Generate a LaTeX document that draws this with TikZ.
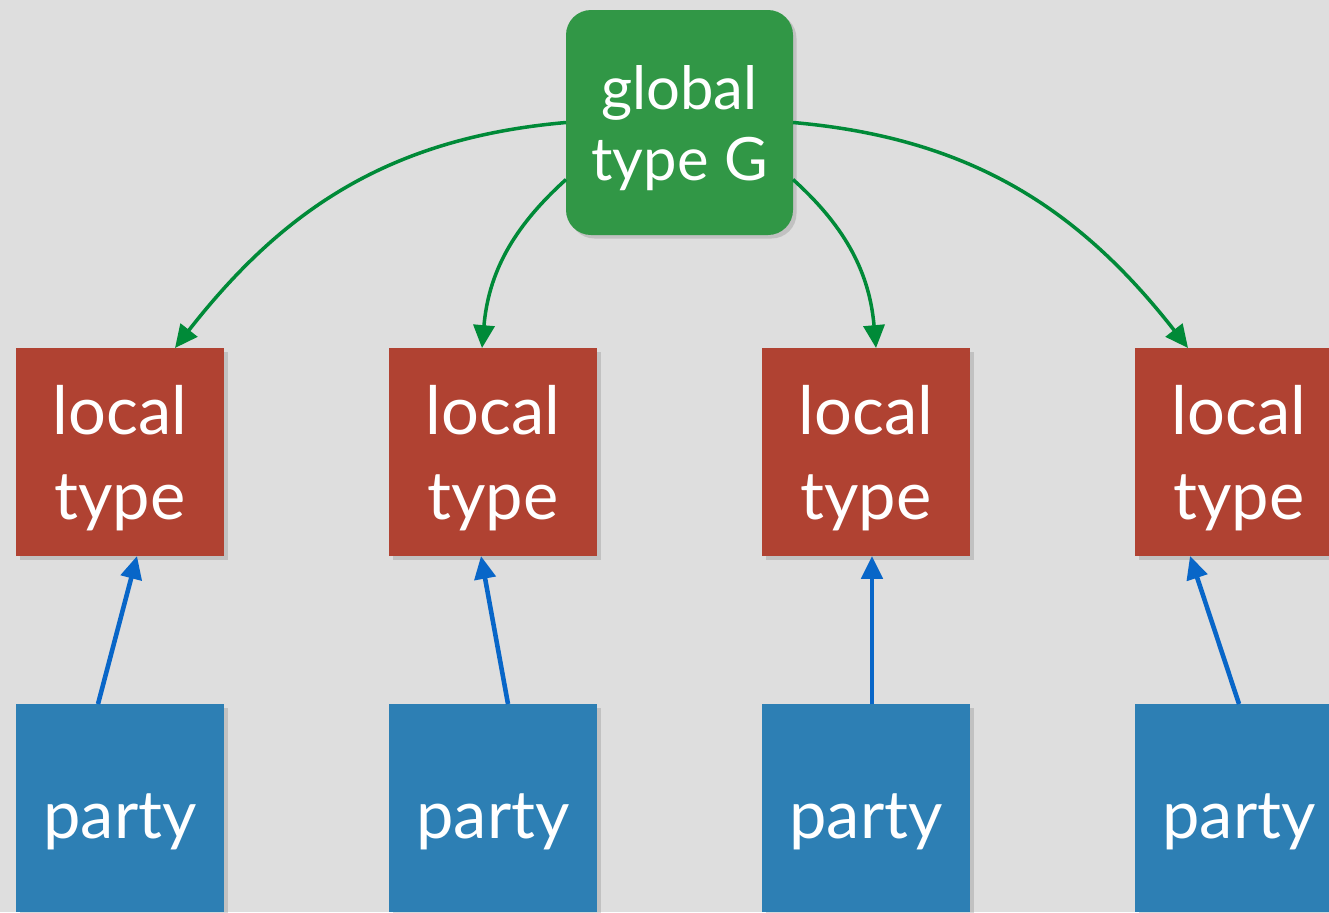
\documentclass[tikz,border=0pt]{standalone}
\usepackage{fontspec}
\setmainfont{Lato}
\usetikzlibrary{arrows.meta,positioning,shadows,calc}

\definecolor{bggray}{RGB}{222,222,222}
\definecolor{globalgreen}{RGB}{49,151,70}
\definecolor{localred}{RGB}{176,66,50}
\definecolor{partyblue}{RGB}{45,127,180}
\definecolor{projgreen}{RGB}{0,138,56}
\definecolor{implblue}{RGB}{8,102,200}

\begin{document}
\begin{tikzpicture}[>={Triangle[length=6.5pt,width=6pt]},
  box/.style={text=white, align=center, inner sep=0pt, outer sep=0pt,
    text depth=0pt,
    drop shadow={shadow xshift=0.35mm,shadow yshift=-0.35mm,opacity=0.3}},
  globalbox/.style={box, fill=globalgreen, rounded corners=2.5mm,
    minimum width=22.7mm, minimum height=22.5mm, text height=11.5mm,
    font=\fontsize{17}{20}\selectfont},
  localbox/.style={box, fill=localred, minimum size=20.8mm,
    text height=13.4mm, font=\fontsize{19}{24}\selectfont},
  partybox/.style={box, fill=partyblue, minimum size=20.8mm,
    text height=6mm, font=\fontsize{19}{24}\selectfont},
  proj/.style={->, color=projgreen, line width=1pt},
  impl/.style={->, color=implblue, line width=1.3pt},
  node distance=14.8mm and 16.5mm]

\clip (0,0) rectangle (13.29,-9.12);
\fill[bggray] (0,0) rectangle (13.29,-9.12);

% local types
\node[localbox] (l1) at (1.20,-4.52) {local\\type};
\node[localbox,right=of l1] (l2) {local\\type};
\node[localbox,right=of l2] (l3) {local\\type};
\node[localbox,right=of l3] (l4) {local\\type};

% parties
\node[partybox,below=of l1] (p1) {party};
\node[partybox,below=of l2] (p2) {party};
\node[partybox,below=of l3] (p3) {party};
\node[partybox,below=of l4] (p4) {party};

% global type
\coordinate (mid) at ($(l2.north)!0.5!(l3.north)$);
\node[globalbox,above=11.3mm of mid] (g) {global\\type G};

% projections
\path[proj]
(g.west) edge[out=185,in=52] ([xshift=5.5mm]l1.north);
\path[proj]
([yshift=-5.7mm]g.west) edge[out=222,in=85] ([xshift=-1.1mm]l2.north);
\path[proj]
([yshift=-5.7mm]g.east) edge[out=-42,in=95] ([xshift=1mm]l3.north);
\path[proj]
(g.east) edge[out=-5,in=128] ([xshift=-5.1mm]l4.north);

% implementations
\path[impl]
([xshift=-2.2mm]p1.north) edge ([xshift=1.7mm]l1.south);
\path[impl]
([xshift=1.5mm]p2.north) edge ([xshift=-1.2mm]l2.south);
\path[impl]
([xshift=0.6mm]p3.north) edge ([xshift=0.6mm]l3.south);
\path[impl]
(p4.north) edge ([xshift=-4.9mm]l4.south);
\end{tikzpicture}
\end{document}
